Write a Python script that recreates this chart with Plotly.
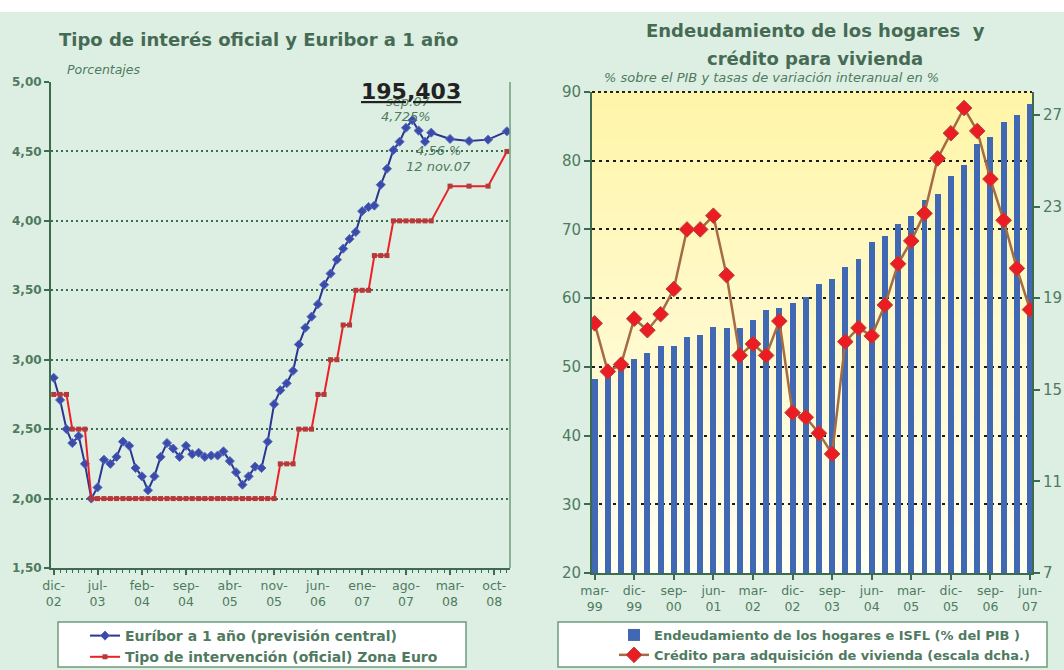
import plotly.graph_objects as go

W, H = 1064, 670

# ---------------- Left chart data ----------------
euribor_dates = [
    "2002-12-01", "2003-01-01", "2003-02-01", "2003-03-01", "2003-04-01", "2003-05-01",
    "2003-06-01", "2003-07-01", "2003-08-01", "2003-09-01", "2003-10-01", "2003-11-01",
    "2003-12-01", "2004-01-01", "2004-02-01", "2004-03-01", "2004-04-01", "2004-05-01",
    "2004-06-01", "2004-07-01", "2004-08-01", "2004-09-01", "2004-10-01", "2004-11-01",
    "2004-12-01", "2005-01-01", "2005-02-01", "2005-03-01", "2005-04-01", "2005-05-01",
    "2005-06-01", "2005-07-01", "2005-08-01", "2005-09-01", "2005-10-01", "2005-11-01",
    "2005-12-01", "2006-01-01", "2006-02-01", "2006-03-01", "2006-04-01", "2006-05-01",
    "2006-06-01", "2006-07-01", "2006-08-01", "2006-09-01", "2006-10-01", "2006-11-01",
    "2006-12-01", "2007-01-01", "2007-02-01", "2007-03-01", "2007-04-01", "2007-05-01",
    "2007-06-01", "2007-07-01", "2007-08-01", "2007-09-01", "2007-10-01", "2007-11-01",
    "2007-12-01", "2008-03-01", "2008-06-01", "2008-09-01", "2008-12-01",
]
euribor = [
    2.87, 2.71, 2.50, 2.40, 2.45, 2.25,
    2.00, 2.08, 2.28, 2.25, 2.30, 2.41,
    2.38, 2.22, 2.16, 2.06, 2.16, 2.30,
    2.40, 2.36, 2.30, 2.38, 2.32, 2.33,
    2.30, 2.31, 2.31, 2.34, 2.27, 2.19,
    2.10, 2.16, 2.23, 2.22, 2.41, 2.68,
    2.78, 2.83, 2.92, 3.11, 3.23, 3.31,
    3.40, 3.54, 3.62, 3.72, 3.80, 3.87,
    3.92, 4.07, 4.10, 4.11, 4.26, 4.375,
    4.51, 4.57, 4.67, 4.725, 4.65, 4.57,
    4.635, 4.59, 4.575, 4.585, 4.645,
]
ecb = [
    2.75, 2.75, 2.75, 2.50, 2.50, 2.50,
    2.00, 2.00, 2.00, 2.00, 2.00, 2.00,
    2.00, 2.00, 2.00, 2.00, 2.00, 2.00,
    2.00, 2.00, 2.00, 2.00, 2.00, 2.00,
    2.00, 2.00, 2.00, 2.00, 2.00, 2.00,
    2.00, 2.00, 2.00, 2.00, 2.00, 2.00,
    2.25, 2.25, 2.25, 2.50, 2.50, 2.50,
    2.75, 2.75, 3.00, 3.00, 3.25, 3.25,
    3.50, 3.50, 3.50, 3.75, 3.75, 3.75,
    4.00, 4.00, 4.00, 4.00, 4.00, 4.00,
    4.00, 4.25, 4.25, 4.25, 4.50,
]
left_tick_dates = ["2002-12-01", "2003-07-01", "2004-02-01", "2004-09-01", "2005-04-01",
                   "2005-11-01", "2006-06-01", "2007-01-01", "2007-08-01", "2008-03-01",
                   "2008-10-01"]
left_tick_text = ["dic-<br>02", "jul-<br>03", "feb-<br>04", "sep-<br>04", "abr-<br>05",
                  "nov-<br>05", "jun-<br>06", "ene-<br>07", "ago-<br>07", "mar-<br>08",
                  "oct-<br>08"]

# ---------------- Right chart data ----------------
quarters = ["mar-99", "jun-99", "sep-99", "dic-99", "mar-00", "jun-00", "sep-00", "dic-00",
            "mar-01", "jun-01", "sep-01", "dic-01", "mar-02", "jun-02", "sep-02", "dic-02",
            "mar-03", "jun-03", "sep-03", "dic-03", "mar-04", "jun-04", "sep-04", "dic-04",
            "mar-05", "jun-05", "sep-05", "dic-05", "mar-06", "jun-06", "sep-06", "dic-06",
            "mar-07", "jun-07"]
debt = [48.2, 49.4, 50.3, 51.1, 52.0, 53.0, 53.1, 54.3, 54.6, 55.85, 55.7, 55.7,
        56.8, 58.3, 58.6, 59.35, 60.2, 62.0, 62.85, 64.55, 65.75, 68.2, 69.05, 70.75,
        71.9, 74.3, 75.2, 77.75, 79.4, 82.45, 83.5, 85.7, 86.6, 88.3]
credit = [17.9, 15.8, 16.1, 18.1, 17.6, 18.3, 19.4, 22.0, 22.0, 22.6, 20.0, 16.5,
          17.0, 16.5, 18.0, 14.0, 13.8, 13.1, 12.2, 17.1, 17.7, 17.35, 18.7, 20.5,
          21.5, 22.7, 25.1, 26.2, 27.3, 26.3, 24.2, 22.4, 20.3, 18.5]
right_tick_cats = ["mar-99", "dic-99", "sep-00", "jun-01", "mar-02", "dic-02", "sep-03",
                   "jun-04", "mar-05", "dic-05", "sep-06", "jun-07"]
right_tick_text = ["mar-<br>99", "dic-<br>99", "sep-<br>00", "jun-<br>01", "mar-<br>02",
                   "dic-<br>02", "sep-<br>03", "jun-<br>04", "mar-<br>05", "dic-<br>05",
                   "sep-<br>06", "jun-<br>07"]
right_ticks_r = [7, 11, 15, 19, 23, 27]

# ---------------- Styles ----------------
BG = "#DDEFE2"
GREEN = "#4F7A5F"
DARKGREEN = "#3E6A4E"
TITLE = "#466B55"
FONT = "DejaVu Sans"

fig = go.Figure()

fig.add_trace(go.Scatter(
    x=euribor_dates, y=euribor, mode="lines+markers",
    name="Euríbor a 1 año (previsión central)",
    line=dict(color="#2B3592", width=2),
    marker=dict(symbol="diamond", size=7, color="#3A4BAA", line=dict(color="#5A6BC0", width=1)),
    xaxis="x", yaxis="y", legend="legend",
))
fig.add_trace(go.Scatter(
    x=euribor_dates, y=ecb, mode="lines+markers",
    name="Tipo de intervención (oficial) Zona Euro",
    line=dict(color="#EC2027", width=2),
    marker=dict(symbol="square", size=5, color="#B23A3A"),
    xaxis="x", yaxis="y", legend="legend",
))

fig.add_trace(go.Bar(
    x=quarters, y=debt, name="Endeudamiento de los hogares e ISFL (% del PIB )",
    marker=dict(color="#4169B3", line=dict(width=0)), width=0.45,
    xaxis="x2", yaxis="y2", legend="legend2",
))
fig.add_trace(go.Scatter(
    x=quarters, y=credit, mode="lines+markers",
    name="Crédito para adquisición de vivienda (escala dcha.)",
    line=dict(color="#A56B42", width=2.5),
    marker=dict(symbol="diamond", size=12, color="#EC1C24", line=dict(color="#B0443A", width=1)),
    xaxis="x2", yaxis="y3", legend="legend2",
))

def px_x(p):
    return p / W

def px_y(p):
    return 1 - p / H

shapes = []
# white strip at the top
shapes.append(dict(type="rect", xref="paper", yref="paper", x0=0, x1=1, y0=px_y(12), y1=1,
                   fillcolor="white", line=dict(width=0), layer="below"))
# gradient background of right plot
N = 60
top = (255, 245, 168)
bot = (255, 254, 242)
for k in range(N):
    t = k / (N - 1)
    c = tuple(int(round(bot[i] + (top[i] - bot[i]) * t)) for i in range(3))
    shapes.append(dict(type="rect", xref="x2 domain", yref="y2 domain",
                       x0=0, x1=1, y0=k / N, y1=(k + 1) / N + 0.002,
                       fillcolor="rgb(%d,%d,%d)" % c, line=dict(width=0), layer="below"))
# top dotted border of right plot
shapes.append(dict(type="line", xref="x2 domain", yref="y2 domain", x0=0, x1=1, y0=1, y1=1,
                   line=dict(color="#222222", width=2, dash="3px,3px")))
# right border of left plot
shapes.append(dict(type="line", xref="x domain", yref="y domain", x0=1, x1=1, y0=0, y1=1,
                   line=dict(color="#6E9C7B", width=1.5)))
# legend boxes
shapes.append(dict(type="rect", xref="paper", yref="paper",
                   x0=px_x(58), x1=px_x(466), y0=px_y(667), y1=px_y(622),
                   fillcolor="white", line=dict(color="#6E9C7B", width=1.5)))
shapes.append(dict(type="rect", xref="paper", yref="paper",
                   x0=px_x(558), x1=px_x(1047), y0=px_y(667), y1=px_y(622),
                   fillcolor="white", line=dict(color="#6E9C7B", width=1.5)))

annotations = [
    dict(text="<b>Tipo de interés oficial y Euribor a 1 año</b>", x=px_x(258), y=px_y(40),
         xref="paper", yref="paper", showarrow=False, xanchor="center", yanchor="middle",
         font=dict(family=FONT, size=18, color=TITLE)),
    dict(text="<b>Endeudamiento de los hogares  y</b>", x=px_x(815), y=px_y(30),
         xref="paper", yref="paper", showarrow=False, xanchor="center", yanchor="middle",
         font=dict(family=FONT, size=18, color=TITLE)),
    dict(text="<b>crédito para vivienda</b>", x=px_x(815), y=px_y(59),
         xref="paper", yref="paper", showarrow=False, xanchor="center", yanchor="middle",
         font=dict(family=FONT, size=18, color=TITLE)),
    dict(text="<i>Porcentajes</i>", x=px_x(65), y=px_y(70), xref="paper", yref="paper",
         showarrow=False, xanchor="left", yanchor="middle",
         font=dict(family=FONT, size=12.5, color=GREEN)),
    dict(text="<i>% sobre el PIB y tasas de variación interanual en %</i>", x=px_x(602), y=px_y(78),
         xref="paper", yref="paper", showarrow=False, xanchor="left", yanchor="middle",
         font=dict(family=FONT, size=13, color=GREEN)),
    dict(text="<i>sep.07</i>", x=px_x(408), y=px_y(101), xref="paper", yref="paper",
         showarrow=False, xanchor="center", yanchor="middle",
         font=dict(family=FONT, size=13, color=GREEN)),
    dict(text="<b><u>195,403</u></b>", x=px_x(411), y=px_y(92), xref="paper", yref="paper",
         showarrow=False, xanchor="center", yanchor="middle",
         font=dict(family=FONT, size=22, color="#222222")),
    dict(text="<i>4,725%</i>", x=px_x(406), y=px_y(117), xref="paper", yref="paper",
         showarrow=False, xanchor="center", yanchor="middle",
         font=dict(family=FONT, size=13, color=GREEN)),
    dict(text="<i>4,56 %</i>", x=px_x(438), y=px_y(150), xref="paper", yref="paper",
         showarrow=False, xanchor="center", yanchor="middle",
         font=dict(family=FONT, size=13, color=GREEN)),
    dict(text="<i>12 nov.07</i>", x=px_x(438), y=px_y(167), xref="paper", yref="paper",
         showarrow=False, xanchor="center", yanchor="middle",
         font=dict(family=FONT, size=13, color=GREEN)),
]

tickfont = dict(family=FONT, size=12.5, color=GREEN)
fig.update_layout(
    width=W, height=H,
    margin=dict(l=0, r=0, t=0, b=0, pad=0, autoexpand=False),
    paper_bgcolor=BG, plot_bgcolor="rgba(0,0,0,0)",
    separators=",.",
    font=dict(family=FONT, color=GREEN),
    bargap=0,
    xaxis=dict(
        domain=[px_x(51), px_x(510)], anchor="y", type="date", automargin=False,
        range=["2002-11-18", "2008-12-16"],
        tickmode="array", tickvals=left_tick_dates, ticktext=left_tick_text,
        ticks="outside", ticklen=5, tickcolor=DARKGREEN, tickwidth=1.5,
        minor=dict(dtick="M1", ticks="outside", ticklen=3, tickcolor=DARKGREEN, tickwidth=1),
        showline=True, linecolor=DARKGREEN, linewidth=2, showgrid=False, zeroline=False,
        tickfont=tickfont,
    ),
    yaxis=dict(
        domain=[px_y(568), px_y(82)], anchor="x", range=[1.5, 5.0], automargin=False,
        tick0=1.5, dtick=0.5, tickformat=".2f",
        ticks="outside", ticklen=5, tickcolor=DARKGREEN, tickwidth=1.5,
        showline=True, linecolor=DARKGREEN, linewidth=2,
        showgrid=True, gridcolor=DARKGREEN, gridwidth=2, griddash="2px,3px", zeroline=False,
        tickfont=dict(family=FONT, size=12, color=GREEN, weight="bold"),
    ),
    xaxis2=dict(
        domain=[px_x(592), px_x(1032)], anchor="y2", type="category", automargin=False,
        range=[-0.2, 33.15],
        tickmode="array", tickvals=right_tick_cats, ticktext=right_tick_text,
        ticks="outside", ticklen=5, tickcolor=DARKGREEN, tickwidth=1.5,
        showline=True, linecolor=DARKGREEN, linewidth=2, showgrid=False, zeroline=False,
        tickfont=tickfont,
    ),
    yaxis2=dict(
        domain=[px_y(573), px_y(92)], anchor="x2", range=[20, 90], dtick=10, tick0=20,
        automargin=False,
        ticks="outside", ticklen=6, tickcolor=DARKGREEN, tickwidth=1.5,
        showline=True, linecolor=DARKGREEN, linewidth=2,
        showgrid=True, gridcolor="#1A1A1A", gridwidth=2, griddash="3px,4px", zeroline=False,
        tickfont=dict(family=FONT, size=15, color=GREEN),
    ),
    yaxis3=dict(
        overlaying="y2", side="right", anchor="x2", range=[7, 28], automargin=False,
        tickmode="array", tickvals=right_ticks_r,
        ticks="outside", ticklen=6, tickcolor=DARKGREEN, tickwidth=1.5,
        showline=True, linecolor=DARKGREEN, linewidth=2, showgrid=False, zeroline=False,
        tickfont=dict(family=FONT, size=15, color=GREEN),
    ),
    legend=dict(
        x=px_x(85), y=px_y(620), xanchor="left", yanchor="top",
        bgcolor="rgba(0,0,0,0)", borderwidth=0, tracegroupgap=0,
        font=dict(family=FONT, size=14, color=GREEN, weight="bold"),
    ),
    legend2=dict(
        x=px_x(614), y=px_y(620), xanchor="left", yanchor="top",
        bgcolor="rgba(0,0,0,0)", borderwidth=0, tracegroupgap=0,
        font=dict(family=FONT, size=13, color=GREEN, weight="bold"),
    ),
    shapes=shapes,
    annotations=annotations,
)

fig.write_html("out.html", config={"displayModeBar": False},
               post_script="document.body.style.margin='0px';")
